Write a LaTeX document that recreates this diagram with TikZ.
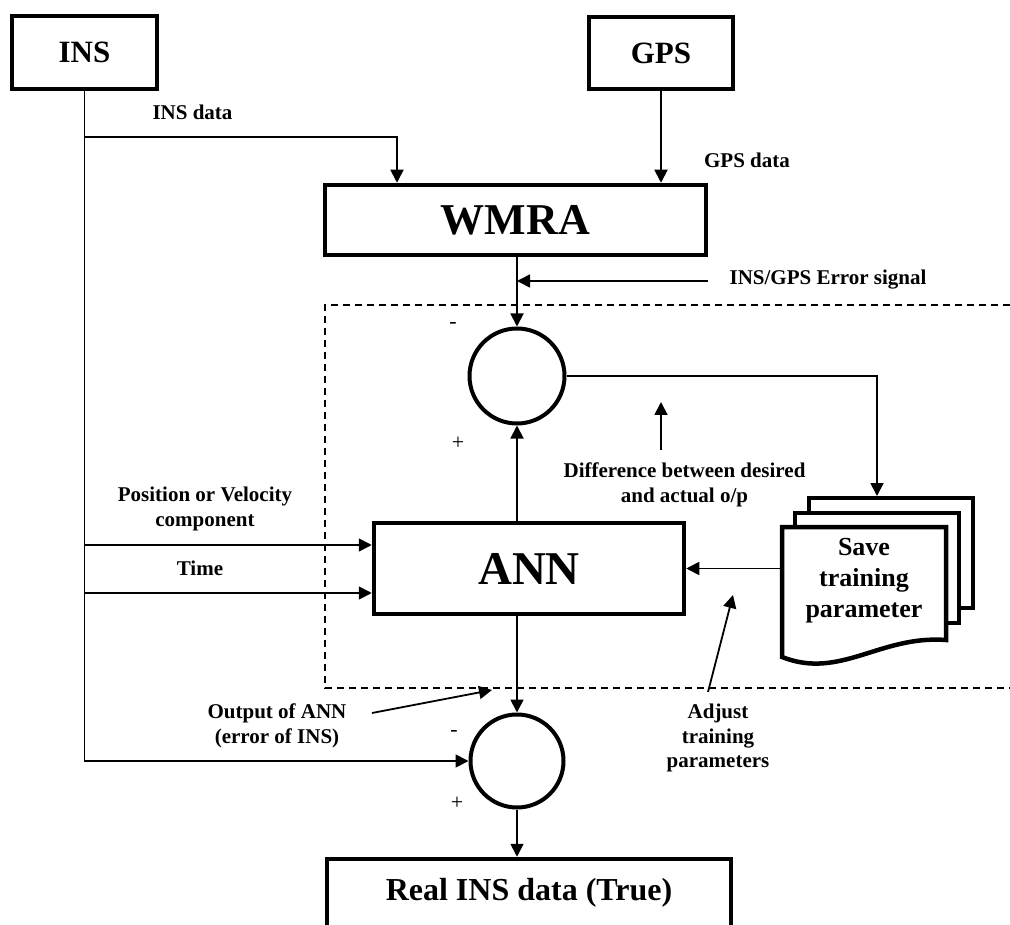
\documentclass[tikz,border=0pt]{standalone}
\usepackage{fontspec}
\setmainfont{Liberation Serif}
\usetikzlibrary{arrows.meta,positioning,calc}

\begin{document}
\begin{tikzpicture}[x=1pt,y=-1pt,
	box/.style={draw,line width=4.5pt,inner sep=0pt},
	sumnode/.style={draw,circle,line width=4pt,minimum size=95pt,inner sep=0pt},
	lbl/.style={font=\bfseries\fontsize{21}{24.5}\selectfont,align=center,inner sep=0pt},
	sgn/.style={font=\fontsize{22}{24}\selectfont,inner sep=0pt},
	arr/.style={line width=1.8pt,-{Triangle[length=13pt,width=13pt]}}]
	\useasboundingbox (0,0) rectangle (1010,925);
	\clip (0,0) rectangle (1010,925);
	\draw[line width=1.5pt,dash pattern=on 7pt off 5pt] (1010,305) -- (325,305) -- (325,688) -- (1010,688);
	\node[box,minimum width=145pt,minimum height=73pt,font=\bfseries\fontsize{31}{31}\selectfont] (ins) at (84.5,52.5) {INS};
	\node[box,minimum width=144pt,minimum height=72pt,font=\bfseries\fontsize{31}{31}\selectfont] (gps) at (661,53) {GPS};
	\node[box,minimum width=381pt,minimum height=70pt,font=\bfseries\fontsize{44}{44}\selectfont] (wmra) at (515.5,220) {WMRA};
	\node[sumnode] (sumA) at (517,376) {};
	\node[box,minimum width=310pt,minimum height=91pt,font=\bfseries\fontsize{47}{47}\selectfont] (ann) at (529,568.5) {ANN};
	\node[sumnode,minimum size=93pt] (sumB) at (517,761) {};
	\node[box,minimum width=404pt,minimum height=100pt,text height=22pt,text depth=40pt,font=\bfseries\fontsize{32}{32}\selectfont] (real) at (529,909) {Real INS data (True)};
	\draw[line width=4.5pt,fill=white] (809,498) rectangle (973,608);
	\draw[line width=4.5pt,fill=white] (795,513) rectangle (959,623);
	\draw[line width=4.5pt,fill=white] (782,527) -- (946,527) -- (946,640) .. controls (880,635) and (840,680) .. (782,657) -- cycle;
	\node[lbl,font=\bfseries\fontsize{26}{31}\selectfont,minimum width=166pt] (save) at (864,581) {Save\\training\\parameter};
	\coordinate (tapA) at (84.5,137);
	\coordinate (tapB) at (84.5,545);
	\coordinate (tapC) at (84.5,593);
	\coordinate (errA) at (708,281);
	\coordinate (stackTop) at (877,496);
	\coordinate (difA) at (661,450);
	\coordinate (difB) at (661,402);
	\coordinate (outA) at (372,713);
	\coordinate (outB) at (492,690);
	\coordinate (adjA) at (708,692);
	\coordinate (adjB) at (733,595);
	\draw[arr] (ins.south) |- (sumB.west);
	\draw[arr] (tapA) -| ([xshift=-118.5pt]wmra.north);
	\draw[arr] (gps.south) -- (gps.south |- wmra.north);
	\draw[arr] (wmra.south -| sumA) -- (sumA.north);
	\draw[arr] (errA) -- (errA -| sumA);
	\draw[arr] (ann.north -| sumA) -- (sumA.south);
	\draw[arr] (sumA.east) -| (stackTop);
	\draw[arr] (tapB) -- (tapB -| ann.west);
	\draw[arr] (tapC) -- (tapC -| ann.west);
	\draw[arr] (save.west |- ann.east) -- (ann.east);
	\draw[arr] (ann.south -| sumB) -- (sumB.north);
	\draw[arr] (sumB.south) -- (sumB.south |- real.north);
	\draw[arr] (difA) -- (difB);
	\draw[arr] (outA) -- (outB);
	\draw[arr] (adjA) -- (adjB);
	\node[lbl] (insdata) at (192.5,112) {INS data};
	\node[lbl] (gpsdata) at (747,160) {GPS data};
	\node[lbl] (errlbl) at (828,280) {INS/GPS Error signal};
	\node[lbl] (poslbl) at (205,509) {Position or Velocity\\component};
	\node[lbl] (timelbl) at (200,568) {Time};
	\node[lbl] (difflbl) at (684.5,485) {Difference between desired\\and actual o/p};
	\node[lbl] (outlbl) at (277,726) {Output of ANN\\(error of INS)};
	\node[lbl] (adjlbl) at (718,738) {Adjust\\training\\parameters};
	\node[sgn] (minA) at (453,325) {-};
	\node[sgn] (plusA) at (458,443) {+};
	\node[sgn] (minB) at (454,733) {-};
	\node[sgn] (plusB) at (457,803) {+};
\end{tikzpicture}
\end{document}
